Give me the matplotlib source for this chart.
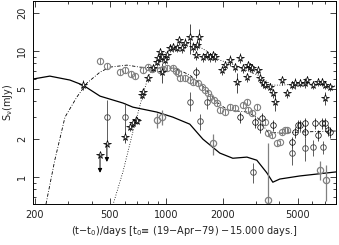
import numpy as np
import matplotlib
matplotlib.use("Agg")
import matplotlib.pyplot as plt
from matplotlib.ticker import FixedLocator, FixedFormatter, NullFormatter

plt.rcParams['font.family'] = ['DejaVu Sans']
plt.rcParams['mathtext.default'] = 'regular'

# model curves
solid_t = [195, 240, 307, 360, 444, 588, 664, 891, 1084, 1334, 1566, 1927, 2260,
           2687, 3034, 3430, 3690, 4018, 5133, 8080]
solid_s = [6.0, 6.33, 5.89, 5.37, 4.39, 3.87, 3.59, 3.28, 2.99, 2.63, 2.00, 1.55, 1.41,
           1.44, 1.36, 1.08, 0.91, 0.964, 1.02, 1.10]

dashdot_t = [229, 255, 289, 334, 378, 444, 501, 617, 724, 891, 1111, 1334, 1603, 1858,
             2126, 2718, 3070, 3469, 4120, 5262, 7980]
dashdot_s = [0.61, 1.36, 2.99, 4.31, 5.57, 6.81, 7.46, 7.74, 7.46, 7.33, 7.33, 6.45, 5.09, 3.94,
             3.40, 3.28, 2.94, 2.28, 2.23, 2.28, 2.32]

dotted_t = [520, 588, 664, 750, 798, 869, 960, 1084, 1334, 1508, 1770, 1927, 2318, 3070,
            3648, 4120, 5665, 7980]
dotted_s = [0.60, 1.10, 2.28, 4.48, 6.11, 7.74, 9.3, 10.8, 11.6, 10.8, 9.3, 8.48, 7.74, 6.45,
            5.37, 5.37, 5.57, 5.27]

# stars
star_t = [360, 602, 640, 664, 689, 698, 742, 750, 798, 849, 891, 902, 924, 948, 948, 982,
          1007, 1044, 1084, 1138, 1166, 1210, 1256, 1334, 1384, 1437, 1455, 1490, 1566, 1644,
          1705, 1770, 1812, 1976, 2051, 2178, 2318, 2372, 2461, 2553, 2687, 2718, 2782, 2851,
          3070, 3145, 3267, 3344, 3555, 3690, 3778, 4120, 4378, 4656, 4830, 5133, 5460, 5596,
          6025, 6400, 6730, 6980, 6980, 7412]
star_s = [5.4, 2.08, 2.49, 2.68, 2.83, 2.78, 4.48, 4.73, 6.11, 7.33, 8.18, 8.80, 9.82, 8.96,
          6.81, 8.48, 9.3, 10.6, 10.8, 10.6, 12.2, 10.6, 11.6, 12.9, 10.8, 9.3, 11.2, 12.9, 8.96,
          9.3, 8.96, 9.3, 8.96, 7.06, 7.74, 8.48, 7.46, 5.67, 8.80, 7.33, 6.22, 7.74, 7.46, 7.33,
          7.06, 6.11, 5.57, 5.37, 5.18, 4.64, 3.94, 5.89, 4.64, 5.37, 5.57, 5.57, 5.57, 5.89,
          5.37, 5.67, 5.67, 5.37, 4.24, 5.18]
star_e = [0.5, 0.2, 0.15, 0.15, 0.15, 0.15, 0.3, 0.3, 0.4, 0.5, 0.6, 0.8, 0.8, 0.7,
          1.2, 0.6, 0.7, 0.8, 0.9, 0.8, 1.0, 0.9, 1.0, 3.5, 1.0, 0.8, 1.0, 2.0, 0.7,
          0.7, 0.7, 0.8, 0.7, 0.6, 0.6, 0.8, 0.6, 1.0, 0.8, 0.6, 0.5, 0.6, 0.6, 0.6,
          0.5, 0.5, 0.4, 0.4, 0.4, 0.4, 0.6, 0.5, 0.4, 0.4, 0.6, 0.4, 0.5, 0.4,
          0.4, 0.4, 0.4, 0.4, 0.5, 0.4]

# star upper limits
ul_t = [444, 483]
ul_s = [1.50, 1.83]

# grey circles, upper band
gc_t = [444, 483, 566, 602, 649, 681, 750, 798, 838, 924, 960, 1007, 1084, 1124, 1152, 1181,
        1256, 1334, 1384, 1472, 1546, 1603, 1663, 1705, 1791, 1858, 1927, 2051, 2178, 2318,
        2553, 2687, 2718, 2851, 3034, 3344, 3469, 3648, 3875, 4018, 4120, 4274, 4378]
gc_s = [8.33, 7.60, 6.81, 7.06, 6.57, 6.33, 7.06, 7.46, 7.20, 7.06, 7.20, 7.33, 7.33, 6.94,
        6.69, 6.11, 6.11, 5.89, 5.67, 5.57, 5.18, 4.90, 4.64, 4.31, 4.08, 3.87, 3.40, 3.28,
        3.59, 3.53, 3.73, 3.94, 3.40, 3.22, 3.59, 2.73, 2.23, 2.15, 1.86, 1.89, 2.28, 2.36, 2.36]

# black circles, late times
bc_t = [1437, 2461, 2960, 3145, 3222, 3690, 4656, 4830, 5010, 5133, 5460, 5460, 6160, 6400,
        6730, 6980, 7237, 7412]
bc_s = [6.81, 2.99, 2.73, 2.49, 2.94, 2.59, 1.89, 2.28, 2.59, 2.59, 2.68, 2.28, 2.68, 2.15,
        2.68, 2.68, 2.36, 2.28]

# low points with large errors
lb_t = [483, 602, 1334, 1508, 1644, 2890, 4656, 5460, 6025, 6808]
lb_s = [2.99, 2.99, 3.94, 2.78, 3.94, 1.10, 1.55, 1.70, 1.73, 1.73]
lb_lo = [1.1, 0.9, 0.6, 0.4, 0.5, 0.2, 0.3, 0.35, 0.25, 0.2]
lb_hi = [1.1, 0.9, 0.8, 0.4, 0.5, 0.2, 0.3, 0.35, 0.25, 0.2]

lg_t = [891, 948, 1770, 3469, 6558, 7062]
lg_s = [2.83, 2.99, 1.86, 0.657, 1.14, 0.946]
lg_lo = [0.4, 0.4, 0.35, 0.05, 0.2, 0.3]
lg_hi = [0.4, 0.4, 0.35, 1.2, 0.2, 0.3]

grey = '#808080'

fig = plt.figure(figsize=(3.39, 2.45), dpi=100)
ax = fig.add_axes([0.097, 0.167, 0.894, 0.829])
ax.set_xscale('log')
ax.set_yscale('log')

ax.plot(solid_t, solid_s, color='black', lw=0.9)
ax.plot(dashdot_t, dashdot_s, color='black', lw=0.6, ls=(0, (4, 2, 1, 2)))
ax.plot(dotted_t, dotted_s, color='black', lw=0.6, ls=(0, (1, 2)))

gc_e = [0.05 * v for v in gc_s]
ax.errorbar(gc_t, gc_s, yerr=gc_e, fmt='o', ms=4.5, mfc='none', mec=grey, mew=0.8,
            ecolor=grey, elinewidth=0.7, capsize=0)
bc_e = [0.1 * v for v in bc_s]
ax.errorbar(bc_t, bc_s, yerr=bc_e, fmt='o', ms=4, mfc='none', mec='black', mew=0.5,
            ecolor='black', elinewidth=0.5, capsize=0)
ax.errorbar(lb_t, lb_s, yerr=[lb_lo, lb_hi], fmt='o', ms=4, mfc='none', mec='#444444', mew=0.6,
            ecolor='#444444', elinewidth=0.6, capsize=0)
ax.errorbar(lg_t, lg_s, yerr=[lg_lo, lg_hi], fmt='o', ms=4.5, mfc='none', mec=grey, mew=0.9,
            ecolor=grey, elinewidth=0.9, capsize=0)

ax.errorbar(star_t, star_s, yerr=star_e, fmt='*', ms=5.5, mfc='white', mec='black', mew=0.55,
            ecolor='black', elinewidth=0.5, capsize=0)

# upper limits: star with arrow down
for t, s in zip(ul_t, ul_s):
    ax.annotate('', xy=(t, s * 0.72), xytext=(t, s),
                arrowprops=dict(arrowstyle='-|>', lw=0.7, color='black',
                                mutation_scale=6, shrinkA=0, shrinkB=0))
ax.plot(ul_t, ul_s, '*', ms=5.5, mfc='white', mec='black', mew=0.55)

ax.set_xlim(195, 8000)
ax.set_ylim(0.61, 25)

ax.xaxis.set_major_locator(FixedLocator([200, 500, 1000, 2000, 5000]))
ax.xaxis.set_major_formatter(FixedFormatter(['200', '500', '1000', '2000', '5000']))
ax.xaxis.set_minor_locator(FixedLocator([300, 400, 600, 700, 800, 900, 3000, 4000,
                                         6000, 7000, 8000]))
ax.xaxis.set_minor_formatter(NullFormatter())
ax.yaxis.set_major_locator(FixedLocator([1, 2, 5, 10, 20]))
ax.yaxis.set_major_formatter(FixedFormatter(['1', '2', '5', '10', '20']))
ax.yaxis.set_minor_locator(FixedLocator([0.7, 0.8, 0.9, 3, 4, 6, 7, 8, 9]))
ax.yaxis.set_minor_formatter(NullFormatter())

ax.tick_params(which='both', direction='in', top=True, right=True, width=0.6,
               labelsize=7, colors='#222222', pad=4)
ax.tick_params(which='major', length=4)
ax.tick_params(which='minor', length=2)
for lab in ax.get_yticklabels():
    lab.set_rotation(90)
    lab.set_va('center')
for sp in ax.spines.values():
    sp.set_linewidth(0.7)

ax.set_xlabel('(t\u2212t$_0$)/days [t$_0$\u2261 (19\u2212Apr\u221279) \u221215.000 days.]',
              fontsize=7, color='#222222', labelpad=3)
ax.set_ylabel('S$_\\nu$(mJy)', fontsize=7, color='#222222', labelpad=2)

fig.savefig('out.png', dpi=100)
